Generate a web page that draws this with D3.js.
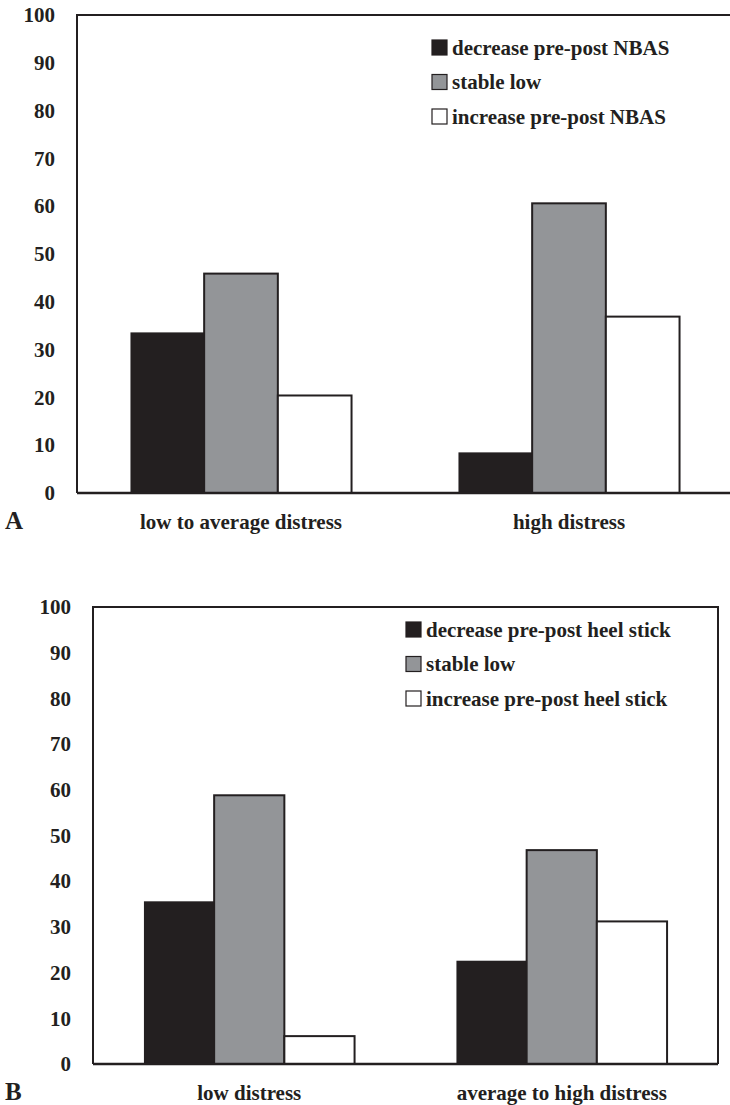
<!DOCTYPE html>
<html>
<head>
<meta charset="utf-8">
<script src="https://cdn.jsdelivr.net/npm/d3@7"></script>
<style>
  body { margin: 0; background: #fff; }
  svg text { font-family: "Liberation Serif", "Times New Roman", serif; font-weight: bold; fill: #231f20; }
</style>
</head>
<body>
<div id="chart"></div>
<script>
// DATA
const yTicks = [0, 10, 20, 30, 40, 50, 60, 70, 80, 90, 100]
const seriesColors = ["#231f20", "#939598", "#ffffff"]

const categoriesA = ["low to average distress", "high distress"]
const legendA = ["decrease pre-post NBAS", "stable low", "increase pre-post NBAS"]
const valuesA = [
  [33.6, 45.9, 20.4],
  [8.5, 60.6, 36.9],
]

const categoriesB = ["low distress", "average to high distress"]
const legendB = ["decrease pre-post heel stick", "stable low", "increase pre-post heel stick"]
const valuesB = [
  [35.6, 58.8, 6.1],
  [22.6, 46.8, 31.2],
]

const ink = "#231f20"

const svg = d3.select("#chart")
  .append("svg")
  .attr("width", 730)
  .attr("height", 1105)

const drawPanel = (p) => {
  const g = svg.append("g")

  const yScale = d3.scaleLinear()
    .domain([0, 100])
    .range([p.bottom, p.top])

  const x0 = d3.scaleBand()
    .domain(p.categories)
    .range([p.left, p.right])
    .paddingInner(0.326)
    .paddingOuter(0.163)

  const x1 = d3.scaleBand()
    .domain(d3.range(3))
    .range([0, x0.bandwidth()])

  // frame
  const frame = p.closed
    ? `M${p.left},${p.bottom}V${p.top}H${p.right}V${p.bottom}`
    : `M${p.left},${p.bottom}V${p.top}H${p.right + 10}`
  g.append("path")
    .attr("d", frame)
    .attr("fill", "none")
    .attr("stroke", ink)
    .attr("stroke-width", 2)

  // y axis labels (no tick marks)
  const yAxis = d3.axisLeft(yScale)
    .tickValues(yTicks)
    .tickSize(0)
    .tickPadding(p.tickPad)
  g.append("g")
    .attr("transform", `translate(${p.left},0)`)
    .call(yAxis)
    .call(a => a.select(".domain").remove())
    .call(a => a.selectAll("text")
      .attr("font-family", null)
      .style("font-size", "21px")
      .attr("fill", ink))

  // bars
  const groups = g.selectAll(".grp")
    .data(p.values)
    .enter()
    .append("g")
    .attr("transform", (d, i) => `translate(${x0(p.categories[i])},0)`)

  groups.selectAll("rect")
    .data(d => d)
    .enter()
    .append("rect")
    .attr("x", (d, i) => x1(i))
    .attr("y", d => yScale(d))
    .attr("width", x1.bandwidth())
    .attr("height", d => yScale(0) - yScale(d))
    .attr("fill", (d, i) => seriesColors[i])
    .attr("stroke", (d, i) => i === 0 ? "none" : ink)
    .attr("stroke-width", 2)

  // baseline
  g.append("line")
    .attr("x1", p.left)
    .attr("x2", p.closed ? p.right : p.right + 10)
    .attr("y1", p.bottom)
    .attr("y2", p.bottom)
    .attr("stroke", ink)
    .attr("stroke-width", 2.5)

  // category labels
  g.selectAll(".cat")
    .data(p.categories)
    .enter()
    .append("text")
    .attr("x", d => x0(d) + x0.bandwidth() / 2)
    .attr("y", p.catY)
    .attr("text-anchor", "middle")
    .style("font-size", "21px")
    .text(d => d)

  // panel letter
  g.append("text")
    .attr("x", 5)
    .attr("y", p.catY)
    .style("font-size", "25px")
    .text(p.letter)

  // legend
  const leg = g.selectAll(".leg")
    .data(p.legend)
    .enter()
    .append("g")
    .attr("transform", (d, i) => `translate(${p.legX},${p.legY + i * 34.5})`)
  leg.append("rect")
    .attr("x", 0)
    .attr("y", -7.5)
    .attr("width", 15)
    .attr("height", 15)
    .attr("fill", (d, i) => seriesColors[i])
    .attr("stroke", ink)
    .attr("stroke-width", 1.2)
  leg.append("text")
    .attr("x", p.legGap)
    .attr("y", 7)
    .style("font-size", "21px")
    .text(d => d)
}

drawPanel({
  categories: categoriesA, values: valuesA, legend: legendA, letter: "A",
  left: 77, right: 733, top: 15, bottom: 493, closed: false, tickPad: 22,
  catY: 529, legX: 432, legY: 47.5, legGap: 20,
})

drawPanel({
  categories: categoriesB, values: valuesB, legend: legendB, letter: "B",
  left: 93, right: 718, top: 607, bottom: 1064, closed: true, tickPad: 22,
  catY: 1100, legX: 406, legY: 629.5, legGap: 20,
})
</script>
</body>
</html>
